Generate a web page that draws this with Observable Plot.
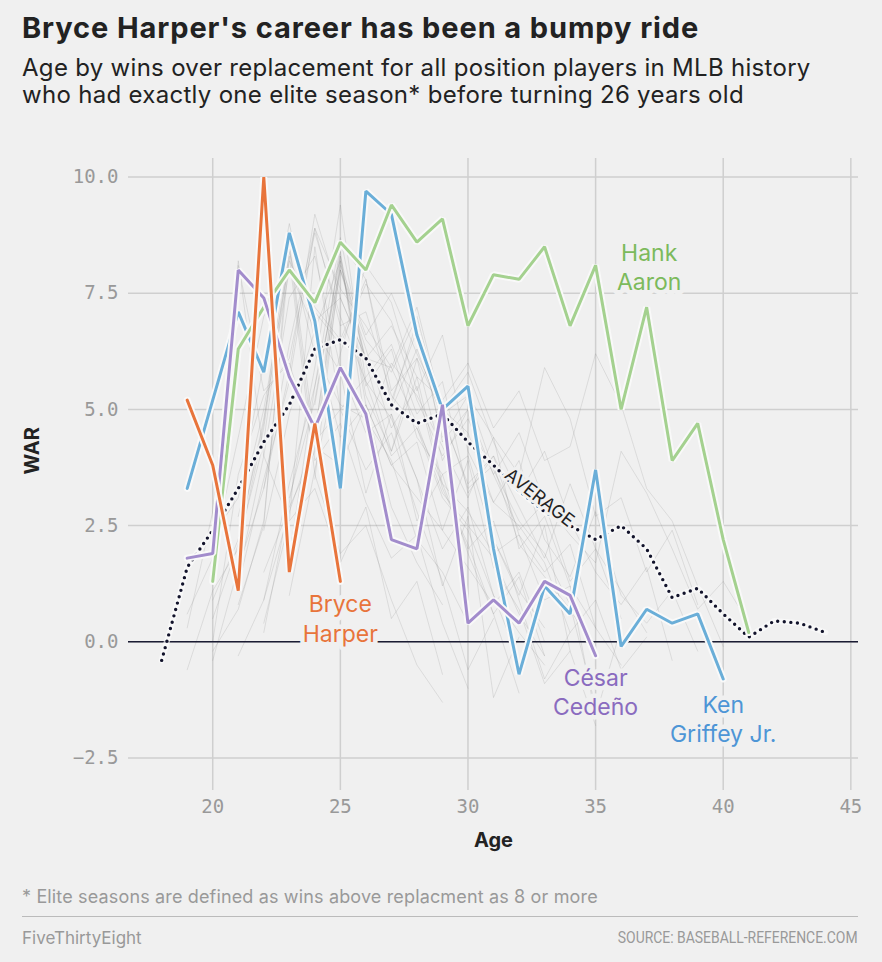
<!DOCTYPE html>
<html>
<head>
<meta charset="utf-8">
<script src="https://cdn.jsdelivr.net/npm/d3@7"></script>
<script src="https://cdn.jsdelivr.net/npm/@observablehq/plot@0.6"></script>
<style>
  body { margin: 0; background: #f0f0f0; }
  #wrap { position: relative; width: 882px; height: 962px; background: #f0f0f0; overflow: hidden; }
  .abs { position: absolute; white-space: nowrap; }
  #title { left: 22px; top: 13px; font: bold 29px/29px Inter, sans-serif; letter-spacing: 0.9px; color: #222; }
  #sub { left: 22px; top: 54px; font: 24px/27px Inter, sans-serif; letter-spacing: 0.3px; color: #222; }
  #chart { left: 0; top: 130px; }
  #note { left: 22px; top: 888px; font: 18px/18px Inter, sans-serif; letter-spacing: 0.15px; color: #999; }
  #rule { left: 22px; top: 916px; width: 836px; height: 0; border-top: 1.5px solid #bbb; }
  #brand { left: 22px; top: 930px; font: 17px/17px Inter, sans-serif; color: #999; }
  #source { right: 24px; top: 930px; font: 16px/16px Roboto, sans-serif; color: #999; transform: scaleX(0.87); transform-origin: right center; }
</style>
</head>
<body>
<div id="wrap">
  <div id="title" class="abs">Bryce Harper's career has been a bumpy ride</div>
  <div id="sub" class="abs">Age by wins over replacement for all position players in MLB history<br>who had exactly one elite season* before turning 26 years old</div>
  <div id="chart" class="abs"></div>
  <div id="note" class="abs">* Elite seasons are defined as wins above replacment as 8 or more</div>
  <div id="rule" class="abs"></div>
  <div id="brand" class="abs">FiveThirtyEight</div>
  <div id="source" class="abs">SOURCE: BASEBALL-REFERENCE.COM</div>
</div>
<script>
// ---------- DATA ----------
const xTicks = [20, 25, 30, 35, 40, 45];
const yTicks = [-2.5, 0, 2.5, 5, 7.5, 10];

// highlighted players: first age and WAR by season
const harperStart = 19;
const harperWar = [5.2, 3.8, 1.1, 10.0, 1.5, 4.7, 1.3];

const griffeyStart = 19;
const griffeyWar = [3.3, 5.2, 7.1, 5.8, 8.8, 6.9, 3.3, 9.7, 9.2, 6.6, 5.0, 5.5, 2.0, -0.7, 1.2, 0.6, 3.7, -0.1, 0.7, 0.4, 0.6, -0.8];

const aaronStart = 20;
const aaronWar = [1.3, 6.3, 7.2, 8.0, 7.3, 8.6, 8.0, 9.4, 8.6, 9.1, 6.8, 7.9, 7.8, 8.5, 6.8, 8.1, 5.0, 7.2, 3.9, 4.7, 2.2, 0.2];

const cedenoStart = 19;
const cedenoWar = [1.8, 1.9, 8.0, 7.4, 5.7, 4.6, 5.9, 4.9, 2.2, 2.0, 5.1, 0.4, 0.9, 0.4, 1.3, 1.0, -0.3];

const avgStart = 18;
const avgWar = [-0.4, 1.6, 2.4, 3.3, 4.3, 5.1, 6.3, 6.5, 6.1, 5.1, 4.7, 4.9, 4.3, 3.8, 3.25, 2.8, 2.5, 2.2, 2.5, 2.0, 0.95, 1.15, 0.6, 0.1, 0.45, 0.4, 0.2];

// other players (background lines): first age and WAR by season
const otherStarts = [20, 21, 19, 22, 20, 23, 21, 20, 22, 24, 19, 21, 22, 20, 23, 21, 19, 22, 24, 20, 23, 21, 25, 20, 22, 24, 21, 23, 20, 22];
const otherWar = [
  [0.5, 2.1, 4.3, 8.4, 6.2, 5.1, 4.8, 3.9, 2.2, 1.5, 0.4],
  [1.2, 3.5, 5.6, 8.9, 6.8, 7.1, 5.3, 4.6, 3.1, 2.4, 1.0, 0.2, -0.5],
  [0.3, 2.8, 8.1, 5.4, 6.0, 4.2, 3.8, 5.1, 2.9, 1.7, 0.8],
  [2.4, 4.9, 6.7, 8.2, 5.5, 6.3, 4.4, 3.6, 4.0, 2.2, 1.1, 0.3],
  [-0.4, 1.6, 3.3, 5.8, 9.2, 7.4, 6.1, 5.9, 4.7, 3.2, 2.5, 1.8, 0.6, -0.3],
  [3.1, 5.2, 8.3, 6.0, 4.1, 5.7, 3.4, 2.0, 2.6, 0.9, -0.8, 0.2],
  [0.8, 2.5, 8.6, 4.3, 5.0, 3.7, 4.5, 2.8, 1.3, -0.6, 0.5],
  [1.9, 4.4, 7.0, 8.0, 7.2, 6.5, 7.8, 5.4, 6.1, 4.9, 3.3, 3.8, 2.1, 1.4, 0.7, -0.2],
  [0.2, 3.0, 5.9, 9.4, 5.6, 4.8, 3.5, 1.2, 2.7, -1.2, 0.1],
  [4.5, 8.1, 6.6, 7.5, 6.2, 5.0, 5.8, 4.3, 3.2, 4.1, 2.6, 1.5, 0.8, 1.6, -0.4],
  [-0.6, 1.1, 2.0, 4.6, 8.5, 3.9, 4.7, 3.0, 1.8, 2.3, 0.4, -1.0],
  [2.7, 5.0, 8.2, 7.1, 6.4, 7.7, 6.9, 5.2, 4.0, 4.8, 3.6, 2.4, 3.0, 1.3, 2.0, 0.5],
  [1.5, 2.9, 4.1, 8.0, 6.3, 4.6, 5.5, 3.3, 2.1, 0.6, 1.4, -0.3],
  [0.0, 3.6, 5.3, 6.1, 8.8, 7.0, 5.6, 4.0, 4.6, 3.4, 2.8, 1.9, 2.3, 0.9, 1.2, 0.3, -0.5],
  [2.0, 4.2, 8.3, 5.1, 3.8, 3.1, 2.4, 3.9, 1.6, 0.7, -0.9, -0.2],
  [-0.3, 0.9, 3.4, 5.5, 8.7, 6.0, 5.2, 6.7, 4.4, 5.3, 3.7, 2.6, 1.9, 0.8, -1.4],
  [0.6, 1.8, 8.2, 4.0, 2.6, 3.3, 1.7, 2.9, 0.5, 1.3, -0.7],
  [3.3, 6.4, 8.9, 7.6, 6.8, 5.9, 7.2, 5.0, 4.5, 3.0, 3.9, 2.2, 1.4, 2.8, 1.0, 0.4, 1.1, -0.2],
  [5.1, 8.4, 4.6, 6.0, 5.3, 4.2, 3.1, 4.4, 2.0, 2.7, 1.2, -1.6, 0.3],
  [0.9, 2.2, 4.8, 8.0, 6.7, 5.8, 3.2, 4.9, 3.5, 2.0, 2.9, 1.0, -0.4],
  [1.0, 3.7, 6.2, 8.1, 7.3, 5.4, 6.6, 4.1, 3.0, 2.5, 1.7, 0.2, 0.9, -0.6, 0.1],
  [1.4, 4.0, 7.4, 8.3, 5.9, 4.5, 4.9, 2.6, 3.6, 1.9, 0.6, -1.1],
  [8.0, 6.1, 5.0, 6.3, 4.8, 3.4, 4.0, 2.3, 1.5, 2.1, 0.3],
  [2.3, 3.1, 6.0, 9.0, 6.5, 4.4, 5.1, 3.8, 4.3, 2.4, 1.6, 0.8, 1.5, 0.0],
  [0.4, 2.6, 8.5, 5.0, 5.7, 6.4, 4.9, 5.6, 3.2, 4.0, 2.9, 1.8, 3.4, 2.0, 1.1, 0.2],
  [3.5, 8.2, 5.3, 4.1, 6.1, 3.9, 5.0, 2.2, 1.0, 2.5, -0.2, -1.8],
  [2.2, 4.7, 8.8, 6.9, 7.4, 6.1, 6.8, 5.7, 5.2, 6.0, 4.6, 5.4, 3.9, 4.2, 6.2, 5.1, 3.3, 2.6, 1.2, -0.1],
  [1.8, 5.5, 8.0, 6.5, 5.8, 7.0, 4.9, 5.3, 4.4, 3.6, 5.9, 4.8, 2.7, 3.1, 1.5, 2.4, 0.8],
  [-0.2, 0.7, 2.6, 8.3, 3.6, 1.9, 2.5, 0.9, -0.5, -1.3],
  [0.9, 2.8, 4.4, 8.6, 7.8, 5.1, 6.9, 4.3, 5.0, 3.6, 4.5, 3.0, 2.3, 1.7, 4.1, 3.2, 2.0, 0.7, 1.3, 0.4]
];

// labels
const labelTexts = ["Bryce\nHarper", "Hank\nAaron", "César\nCedeño", "Ken\nGriffey Jr."];
const labelAges = [25.0, 37.1, 35.0, 40.0];
const labelWars = [0.52, 8.08, -1.06, -1.64];
const labelColors = ["#e8743b", "#7cba5c", "#8a6bbf", "#4d95d6"];
const avgLabel = "AVERAGE";
const avgLabelAge = 32.8;
const avgLabelWar = 3.1;

// line colours
const harperColor = "#e8743b";
const griffeyColor = "#6aaed8";
const aaronColor = "#a4d18f";
const cedenoColor = "#a28ccc";

// ---------- BUILD ----------
const toRows = (start, arr, id) => arr.map((v, i) => ({age: start + i, war: v, id}));
const others = otherWar.flatMap((arr, k) => toRows(otherStarts[k], arr, k));
const avgRows = toRows(avgStart, avgWar, "avg");
const series = [
  {rows: toRows(griffeyStart, griffeyWar, "griffey"), color: griffeyColor},
  {rows: toRows(aaronStart, aaronWar, "aaron"), color: aaronColor},
  {rows: toRows(cedenoStart, cedenoWar, "cedeno"), color: cedenoColor},
  {rows: toRows(harperStart, harperWar, "harper"), color: harperColor}
];

const labelFont = "Inter, sans-serif";
const marks = [
  Plot.gridX(xTicks, {stroke: "#cfcfcf", strokeOpacity: 1, strokeWidth: 1.5}),
  Plot.gridY(yTicks, {stroke: "#cfcfcf", strokeOpacity: 1, strokeWidth: 1.5}),
  Plot.axisX(xTicks, {tickSize: 0, tickPadding: 9, tickFormat: d => String(d), label: null, fill: "#999"}),
  Plot.axisY(yTicks, {tickSize: 0, tickPadding: 10, tickFormat: d3.format(".1f"), label: null, fill: "#999"}),
  Plot.line(others, {x: "age", y: "war", z: "id", stroke: "#888", strokeOpacity: 0.2, strokeWidth: 1}),
  Plot.ruleY([0], {stroke: "#1b1c33", strokeWidth: 1.6}),
  Plot.line(avgRows, {x: "age", y: "war", stroke: "#fbfbfb", strokeOpacity: 0.7, strokeWidth: 6}),
  Plot.line(avgRows, {x: "age", y: "war", stroke: "#12132b", strokeWidth: 3.4, strokeDasharray: "0 6.6", strokeLinecap: "round"})
];
for (const s of series) {
  marks.push(Plot.line(s.rows, {x: "age", y: "war", stroke: "#f9f9f9", strokeWidth: 7, strokeLinejoin: "miter"}));
  marks.push(Plot.line(s.rows, {x: "age", y: "war", stroke: s.color, strokeWidth: 3, strokeLinejoin: "miter"}));
}
labelTexts.forEach((t, i) => {
  marks.push(Plot.text([t], {
    x: () => labelAges[i], y: () => labelWars[i], text: d => d,
    fill: labelColors[i], stroke: "#f0f0f0", strokeWidth: 9,
    fontSize: 23, lineHeight: 1.27, fontFamily: labelFont, textAnchor: "middle"
  }));
});
marks.push(Plot.text([avgLabel], {
  x: () => avgLabelAge, y: () => avgLabelWar, text: d => d, rotate: 38,
  fill: "#222", stroke: "#f0f0f0", strokeWidth: 6, fontSize: 18, fontFamily: labelFont
}));
// axis titles
marks.push(Plot.text(["WAR"], {frameAnchor: "left", dx: -96, rotate: -90, text: d => d, fill: "#222", fontWeight: "bold", fontSize: 20, fontFamily: labelFont}));
marks.push(Plot.text(["Age"], {frameAnchor: "bottom", dy: 56, text: d => d, fill: "#222", fontWeight: "bold", fontSize: 20, fontFamily: labelFont}));

const chart = Plot.plot({
  width: 882,
  height: 740,
  marginLeft: 128,
  marginRight: 24,
  marginTop: 28,
  marginBottom: 80,
  x: {domain: [16.7, 45.3], label: null},
  y: {domain: [-3.2, 10.4], label: null},
  style: {background: "#f0f0f0", fontFamily: "'DejaVu Sans Mono', monospace", fontSize: "19px", color: "#999", overflow: "visible"},
  marks
});
document.getElementById("chart").appendChild(chart);
</script>
</body>
</html>
